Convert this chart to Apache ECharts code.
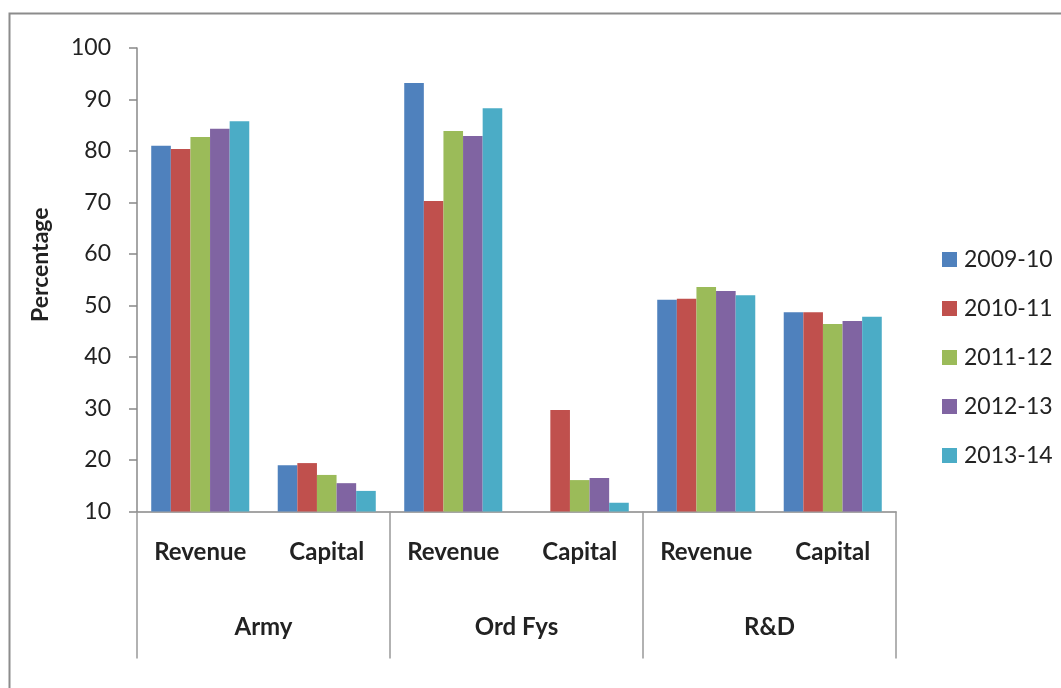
<!DOCTYPE html>
<html>
<head>
<meta charset="utf-8">
<script src="https://cdn.jsdelivr.net/npm/echarts@6/dist/echarts.min.js"></script>
<style>
html,body{margin:0;padding:0;background:#fff;}
#chart{width:1061px;height:688px;}
</style>
</head>
<body>
<div id="chart"></div>
<script>
var subCategories = ['Revenue', 'Capital', 'Revenue', 'Capital', 'Revenue', 'Capital'];
var groups = ['Army', 'Ord Fys', 'R&D'];
var seriesNames = ['2009-10', '2010-11', '2011-12', '2012-13', '2013-14'];
var v2009_10 = [81.0, 19.0, 93.2, null, 51.1, 48.7];
var v2010_11 = [80.4, 19.4, 70.3, 29.7, 51.3, 48.7];
var v2011_12 = [82.7, 17.1, 83.9, 16.1, 53.6, 46.4];
var v2012_13 = [84.3, 15.5, 82.9, 16.5, 52.8, 47.0];
var v2013_14 = [85.8, 14.0, 88.3, 11.7, 52.0, 47.8];
var yTicks = [10, 20, 30, 40, 50, 60, 70, 80, 90, 100];
var colors = ['#4F81BD', '#C0504D', '#9BBB59', '#8064A2', '#4BACC6'];

var allValues = [v2009_10, v2010_11, v2011_12, v2012_13, v2013_14];
var font = 'Lato, "Open Sans", sans-serif';
var chart = echarts.init(document.getElementById('chart'), null, {renderer: 'canvas'});

var series = seriesNames.map(function (n, i) {
  return {
    name: n,
    type: 'bar',
    xAxisIndex: 0,
    data: allValues[i],
    barGap: '0%',
    barCategoryGap: '22.5%',
    itemStyle: {color: colors[i]}
  };
});

chart.setOption({
  animation: false,
  backgroundColor: '#fff',
  textStyle: {fontFamily: font},
  graphic: [{
    type: 'rect',
    shape: {x: 9.5, y: 13.5, width: 1200, height: 800},
    style: {fill: 'none', stroke: '#8c8c8c', lineWidth: 2},
    silent: true
  }],
  grid: {left: 137, right: 165, top: 48, bottom: 176.5, containLabel: false},
  legend: {
    orient: 'vertical',
    left: 937,
    top: 243,
    itemWidth: 15,
    itemHeight: 15,
    itemGap: 26,
    icon: 'rect',
    data: seriesNames,
    textStyle: {fontSize: 23, color: '#222', fontFamily: font, padding: [0, 0, 0, 2]}
  },
  xAxis: [{
    type: 'category',
    data: subCategories,
    position: 'bottom',
    axisLine: {show: true, lineStyle: {color: '#888', width: 1.5}},
    axisTick: {show: false},
    axisLabel: {fontSize: 24, fontWeight: 'bold', color: '#222', margin: 29, interval: 0, fontFamily: font}
  }, {
    type: 'category',
    data: groups,
    position: 'bottom',
    axisLine: {show: false},
    axisTick: {show: true, length: 147, interval: 0, lineStyle: {color: '#999', width: 1.5}},
    axisLabel: {fontSize: 24, fontWeight: 'bold', color: '#222', margin: 104, interval: 0, fontFamily: font}
  }],
  yAxis: {
    type: 'value',
    min: 10,
    max: 100,
    interval: 10,
    name: 'Percentage',
    nameLocation: 'middle',
    nameGap: 85,
    nameTextStyle: {fontSize: 23, fontWeight: 'bold', color: '#222', fontFamily: font, padding: [0, 0, 0, 30]},
    axisLine: {show: true, lineStyle: {color: '#888', width: 1.5}},
    axisTick: {show: true, length: 8, lineStyle: {color: '#888', width: 1.5}},
    axisLabel: {fontSize: 23, color: '#222', margin: 26, fontFamily: font,
      formatter: function (v) { return yTicks.indexOf(v) >= 0 ? String(v) : ''; }},
    splitLine: {show: false}
  },
  series: series
});
</script>
</body>
</html>
